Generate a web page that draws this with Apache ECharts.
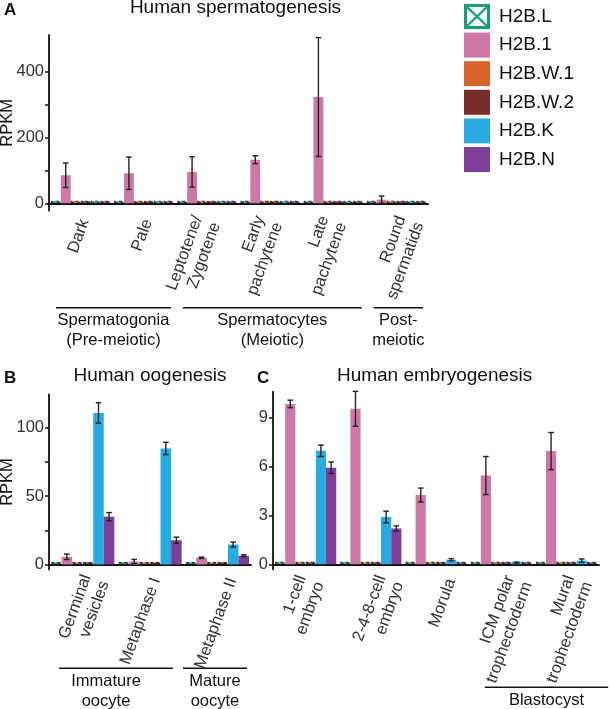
<!DOCTYPE html>
<html><head><meta charset="utf-8">
<script src="https://cdn.jsdelivr.net/npm/echarts@6/dist/echarts.min.js"></script>
<style>html,body{margin:0;padding:0;background:#fff}#c{width:610px;height:709px}</style>
</head><body><div id="c"></div>
<script>
// ---------- data ----------
const seriesNames = ['H2B.L','H2B.1','H2B.W.1','H2B.W.2','H2B.K','H2B.N'];
const seriesColors = ['#1b9e77','#cc79a7','#d8662a','#7a2c2c','#29abe2','#7e3f98'];

// A: spermatogenesis
const spermCats = ['Dark','Pale','Leptotene/\nZygotene','Early\npachytene','Late\npachytene','Round\nspermatids'];
const spermL   = [0,0,0,0,0,0];
const sperm1   = [85,91,95,132,322,11];
const sperm1Err= [37,49,46,12,180,11];
const spermW1  = [0,0,0,0,0,0];
const spermW2  = [0,0,0,0,0,0];
const spermK   = [0,0,0,0,0,0];
const spermN   = [0,0,0,0,0,0];
const spermYLabels = [0,200,400];
const spermYTicks  = [0,100,200,300,400];
const spermGroups = ['Spermatogonia\n(Pre-meiotic)','Spermatocytes\n(Meiotic)','Post-\nmeiotic'];

// B: oogenesis
const oocyteCats = ['Germinal\nvesicles','Metaphase I','Metaphase II'];
const oocyteL   = [0,0,0];
const oocyte1   = [5.6,2.2,4.9];
const oocyte1Err= [2,1.5,0.5];
const oocyteW1  = [0,0,0];
const oocyteW2  = [0,0,0];
const oocyteK   = [111,85,14.6];
const oocyteKErr= [7.5,4.5,1.8];
const oocyteN   = [35,17.7,6.4];
const oocyteNErr= [3,2.3,0.7];
const oocyteYLabels = [0,50,100];
const oocyteYTicks  = [0,25,50,75,100];
const oocyteGroups = ['Immature\noocyte','Mature\noocyte'];

// C: embryogenesis
const embryoCats = ['1-cell\nembryo','2-4-8-cell\nembryo','Morula','ICM polar\ntrophectoderm','Mural\ntrophectoderm'];
const embryoL   = [0,0,0,0,0];
const embryo1   = [9.85,9.55,4.25,5.45,6.95];
const embryo1Err= [0.23,1.07,0.43,1.17,1.14];
const embryoW1  = [0,0,0,0,0];
const embryoW2  = [0,0,0,0,0];
const embryoK   = [6.97,2.9,0.28,0.1,0.22];
const embryoKErr= [0.35,0.36,0.07,0.03,0.1];
const embryoN   = [5.93,2.2,0,0,0];
const embryoNErr= [0.35,0.16,0,0,0];
const embryoYLabels = [0,3,6,9];
const embryoYTicks  = [0,3,6,9];
const embryoGroups = ['Blastocyst'];

// ---------- layout (not data) ----------
const FONT = "'Liberation Sans', Arial, Helvetica, sans-serif";
const GAP = 0.06;
const grids = [
  {left:49, top:35, width:379, height:175.7},
  {left:49, top:394.5, width:202, height:175},
  {left:273, top:391.7, width:326, height:177.6}
];
const yRanges = [[-22.5,510],[-3.7,124.5],[-0.31,10.6]];
// x-label anchor offsets (px) from category centre / axis line
const labelDx = [[4,4,0,-1,0,14],[13,6,15],[5,19.5,15,17.5,12.5]];
const labelDy = [9,9,10];
// group line spans in category units from left edge of axis
const groupSpans = [
  [[0.11,1.93],[2.12,4.95],[5.14,5.92]],
  [[0.15,1.84],[1.99,2.94]],
  [[3.25,5.14]]
];
const groupTextDx = [[0,0,0],[-10,0],[0]];
const groupLineY = [307.7, 668.3, 687.3];

const panels = [
  {cats:spermCats, vals:[spermL,sperm1,spermW1,spermW2,spermK,spermN],
   errs:[null,sperm1Err,null,null,null,null], yl:spermYLabels, yt:spermYTicks, groups:spermGroups, name:'RPKM'},
  {cats:oocyteCats, vals:[oocyteL,oocyte1,oocyteW1,oocyteW2,oocyteK,oocyteN],
   errs:[null,oocyte1Err,null,null,oocyteKErr,oocyteNErr], yl:oocyteYLabels, yt:oocyteYTicks, groups:oocyteGroups, name:'RPKM'},
  {cats:embryoCats, vals:[embryoL,embryo1,embryoW1,embryoW2,embryoK,embryoN],
   errs:[null,embryo1Err,null,null,embryoKErr,embryoNErr], yl:embryoYLabels, yt:embryoYTicks, groups:embryoGroups, name:''}
];

const chart = echarts.init(document.getElementById('c'), null, {renderer:'canvas'});

const xAxes = [], yAxes = [], series = [];
panels.forEach((p, pi) => {
  xAxes.push({
    type:'category', gridIndex:pi, data:p.cats,
    axisLine:{lineStyle:{color:'#111', width:1.8}},
    axisTick:{length:4, lineStyle:{color:'#111', width:1.5}},
    axisLabel:{show:false},
    splitLine:{show:false}
  });
  yAxes.push({
    type:'value', gridIndex:pi, min:yRanges[pi][0], max:yRanges[pi][1],
    name:p.name, nameLocation:'middle', nameGap:33, nameRotate:90, nameMoveOverlap:false,
    nameTextStyle:{fontSize:16.5, color:'#111', fontFamily:FONT},
    axisLine:{show:true, lineStyle:{color:'#111', width:1.8}},
    axisTick:{show:true, length:4, lineStyle:{color:'#111', width:1.5}, customValues:p.yt},
    axisLabel:{fontSize:16.5, color:'#333', margin:5, fontFamily:FONT, customValues:p.yl},
    splitLine:{show:false}
  });
  p.vals.forEach((arr, si) => {
    series.push({
      type:'bar', name:seriesNames[si], xAxisIndex:pi, yAxisIndex:pi,
      barGap:'0%', barCategoryGap:(GAP*100)+'%', barMinHeight:2.5,
      itemStyle:{color:seriesColors[si]},
      emphasis:{disabled:true},
      data: arr.map(v => v === 0
        ? {value:v, itemStyle:{color:seriesColors[si], borderColor:'#222', borderWidth:1, borderType:[3,3]}}
        : {value:v})
    });
  });
  const errData = [];
  p.errs.forEach((earr, si) => {
    if (!earr) return;
    earr.forEach((e, ci) => { if (e > 0) errData.push([ci, si, p.vals[si][ci], e]); });
  });
  series.push({
    type:'custom', name:'err'+pi, xAxisIndex:pi, yAxisIndex:pi, z:10,
    encode:{x:0, y:2}, silent:true,
    data: errData,
    renderItem: (params, api) => {
      const ci = api.value(0), si = api.value(1), v = api.value(2), e = api.value(3);
      const band = api.size([1,0])[0];
      const inner = band * (1 - GAP);
      const bw = inner / 6;
      const xc = api.coord([ci, 0])[0] - inner/2 + bw*(si + 0.5);
      const yt = api.coord([ci, v + e])[1];
      const yb = api.coord([ci, v - e])[1];
      const cap = 2.8;
      const st = {stroke:'#222', lineWidth:1.4};
      return {type:'group', children:[
        {type:'line', shape:{x1:xc, y1:yt, x2:xc, y2:yb}, style:st},
        {type:'line', shape:{x1:xc-cap, y1:yt, x2:xc+cap, y2:yt}, style:st},
        {type:'line', shape:{x1:xc-cap, y1:yb, x2:xc+cap, y2:yb}, style:st}
      ]};
    }
  });
});

const svgL = '<svg xmlns="http://www.w3.org/2000/svg" width="26" height="25"><rect x="1.5" y="1.5" width="23" height="22" fill="white" stroke="#1b9e77" stroke-width="3"/><path d="M2.5 2.5L23.5 22.5M23.5 2.5L2.5 22.5" stroke="#1b9e77" stroke-width="2.4"/></svg>';
const iconL = 'image://data:image/svg+xml;charset=utf-8,' + encodeURIComponent(svgL);

chart.setOption({
  animation:false,
  grid: grids.map(g => Object.assign({containLabel:false, outerBoundsMode:'none'}, g)),
  xAxis: xAxes, yAxis: yAxes, series: series,
  legend:{
    orient:'vertical', left:464, top:4, padding:0, itemWidth:26, itemHeight:25, itemGap:3.6,
    selectedMode:false,
    textStyle:{fontSize:19, color:'#111', fontFamily:FONT, padding:[0,0,0,4]},
    data: seriesNames.map((n,i) => i === 0 ? {name:n, icon:iconL} : {name:n, icon:'rect'})
  }
});

// ---------- titles, category labels & group annotations ----------
const gfx = [];
function txt(x, y, s, size, weight, align, lh, rot, color) {
  gfx.push({type:'text', silent:true, x:x, y:y, rotation:rot||0,
    style:{x:0, y:0, text:s, fontSize:size, fontWeight:weight||'normal',
    fontFamily:FONT, fill:color||'#111', align:align||'center', verticalAlign:'middle', lineHeight:lh||size}});
}
txt(4, 10, 'A', 17, 'bold', 'left');
txt(235.5, 8, 'Human spermatogenesis', 19);
txt(4, 378.5, 'B', 17, 'bold', 'left');
txt(150, 375.5, 'Human oogenesis', 19);
txt(257, 378.5, 'C', 17, 'bold', 'left');
txt(434.6, 375.5, 'Human embryogenesis', 19);

const ROT = 70 * Math.PI / 180;
panels.forEach((p, pi) => {
  const conv = ci => chart.convertToPixel({xAxisIndex:pi, yAxisIndex:pi}, [ci, yRanges[pi][0]]);
  const c0 = conv(0), c1 = conv(1);
  const band = c1[0] - c0[0], left = c0[0] - band/2, axisY = c0[1];
  p.cats.forEach((cat, ci) => {
    const c = conv(ci);
    txt(c[0] + labelDx[pi][ci], axisY + labelDy[pi], cat, 16.5, 'normal', 'right', 19, ROT, '#333');
  });
  const ly = groupLineY[pi];
  groupSpans[pi].forEach((sp, gi) => {
    const x1 = left + sp[0]*band, x2 = left + sp[1]*band;
    gfx.push({type:'line', silent:true, shape:{x1:x1, y1:ly, x2:x2, y2:ly}, style:{stroke:'#111', lineWidth:1.6}});
    const lines = p.groups[gi].split('\n').length;
    txt((x1+x2)/2 + groupTextDx[pi][gi], ly + 13 + (lines-1)*10, p.groups[gi], 16.5, 'normal', 'center', 20);
  });
});
chart.setOption({graphic: gfx});
</script>
</body></html>
